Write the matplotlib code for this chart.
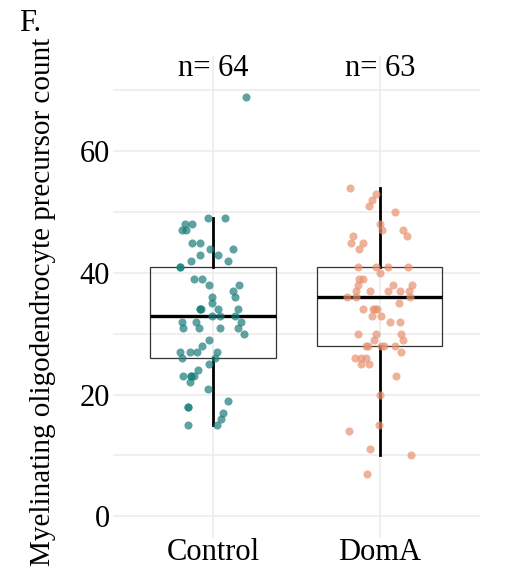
"""
Panel F: myelinating oligodendrocyte precursor counts, Control vs DomA
"""
import matplotlib
matplotlib.use("Agg")
import matplotlib.pyplot as plt
import numpy as np

groups = ["Control", "DomA"]
colors = ["#1a7d7b", "#e8906e"]

# counts, with the horizontal jitter of each point
control_counts = [69, 49, 49, 48, 48, 47, 47, 45, 45, 44, 44, 43, 43, 42, 42, 41, 41,
                  39, 39, 38, 38, 37, 36, 36, 35, 34, 34, 34, 34, 34, 33, 33, 33,
                  32, 32, 32, 31, 31, 31, 31, 30, 29, 28, 27, 27, 27, 27, 26, 26,
                  25, 24, 23, 23, 23, 23, 22, 21, 19, 18, 18, 17, 16, 15, 15]
control_jitter = [0.20, -0.03, 0.07, -0.166, -0.126, -0.184, -0.164, -0.126, -0.076,
                  -0.016, 0.118, -0.08, 0.03, -0.134, 0.088, -0.196, -0.196,
                  -0.116, -0.064, -0.026, 0.156, 0.12, 0.13, -0.008, -0.008,
                  -0.08, -0.07, -0.075, 0.03, 0.152, -0.006, 0.042, 0.132,
                  -0.188, -0.102, 0.168, -0.178, -0.086, 0.042, 0.152, 0.188,
                  -0.022, -0.066, -0.2, -0.136, -0.094, 0.022, -0.186, 0.012,
                  -0.022, -0.09, -0.18, -0.134, -0.134, -0.114, -0.136, -0.032,
                  0.088, -0.152, -0.152, 0.058, 0.046, -0.15, 0.026]

doma_counts = [54, 53, 52, 51, 50, 48, 47, 47, 46, 46, 45, 45, 44, 41, 41, 41, 41,
               40, 39, 39, 38, 38, 38, 37, 37, 37, 37, 37, 36, 36, 36, 35,
               34, 34, 34, 34, 33, 33, 32, 32, 30, 30, 30, 29, 29,
               28, 28, 28, 28, 28, 27, 26, 26, 26, 25, 25, 23, 20, 15, 14, 11, 10, 7]
doma_jitter = [-0.178, -0.024, -0.048, -0.064, 0.09, 0.002, 0.012, 0.136, 0.162,
               -0.16, -0.174, -0.104, -0.126, -0.13, -0.024, 0.048, 0.166,
               0.002, -0.126, -0.1, -0.134, 0.078, 0.194, -0.144, -0.058, 0.05,
               0.118, 0.172, -0.198, -0.142, 0.182, 0.114,
               -0.104, -0.042, -0.018, -0.03, -0.046, 0.006, 0.06, 0.122,
               -0.13, -0.024, 0.124, -0.034, 0.138,
               -0.086, -0.07, 0.004, 0.024, 0.092, 0.124, -0.15, -0.112, -0.082,
               -0.112, -0.064, 0.094, 0.0, -0.008, -0.188, -0.062, 0.188, -0.078]

# box summary as drawn (whisker low, Q1, median, Q3, whisker high)
box_stats = [[15, 26, 33, 41, 49],
             [10, 28, 36, 41, 54]]

plt.rcParams["font.family"] = ["Liberation Serif", "DejaVu Serif"]

fig = plt.figure(figsize=(5.08, 5.75), dpi=100)
ax = fig.add_axes([0.222, 0.064, 0.723, 0.838])

stats = []
for name, s in zip(groups, box_stats):
    stats.append(dict(label=name, whislo=s[0], q1=s[1], med=s[2], q3=s[3], whishi=s[4], fliers=[]))

ax.bxp(stats, positions=[1, 2], widths=0.75, showcaps=False, showfliers=False,
       patch_artist=True,
       boxprops=dict(facecolor="none", edgecolor="#333333", linewidth=0.9),
       whiskerprops=dict(color="black", linewidth=2.0),
       medianprops=dict(color="black", linewidth=2.4),
       zorder=2)

for i, (counts, jit) in enumerate([(control_counts, control_jitter), (doma_counts, doma_jitter)]):
    xs = i + 1 + np.array(jit)
    ax.scatter(xs, counts, s=34, color=colors[i], alpha=0.7, linewidths=0, zorder=3)
    ax.text(i + 1, 73.6, "n= %d" % len(counts), ha="center", va="center", fontsize=22)

ax.set_xlim(0.4, 2.6)
ax.set_ylim(-3.6, 75.6)
ax.set_yticks([0, 20, 40, 60])
ax.set_yticks([10, 30, 50, 70], minor=True)
ax.set_xticks([1, 2])
ax.set_xticklabels(groups)
ax.tick_params(axis="both", which="both", length=0, labelsize=22, colors="black")
ax.tick_params(axis="y", pad=2)
ax.tick_params(axis="x", pad=0)
ax.grid(True, which="both", color="#ebebeb", linewidth=1.1, zorder=0)
ax.set_axisbelow(True)
for sp in ax.spines.values():
    sp.set_visible(False)

ax.set_ylabel("Myelinating oligodendrocyte precursor count", fontsize=21)
ax.yaxis.set_label_coords(-0.155, 0.49)
fig.text(0.037, 0.985, "F.", fontsize=22, ha="left", va="top")

fig.savefig("out.png", dpi=100)
